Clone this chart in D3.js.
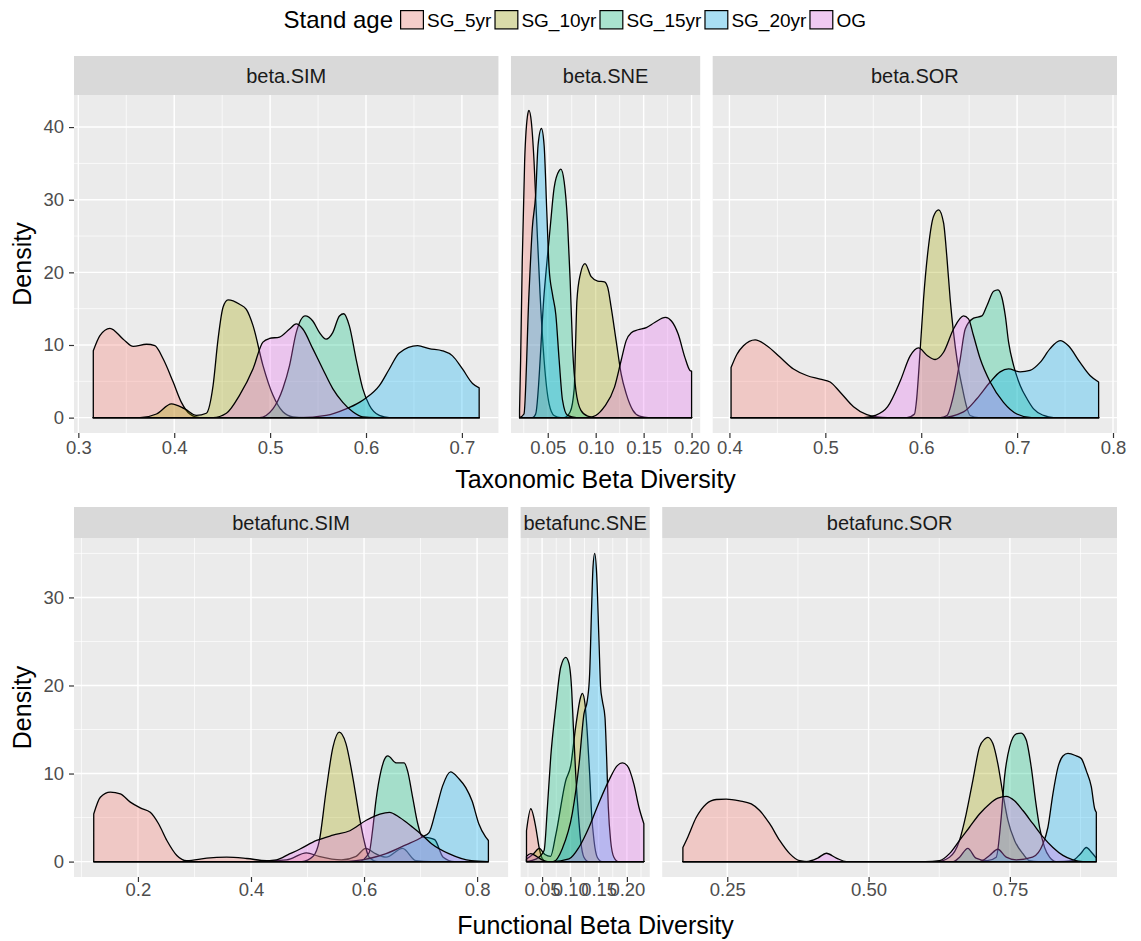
<!DOCTYPE html>
<html>
<head>
<meta charset="utf-8">
<script src="https://cdn.jsdelivr.net/npm/d3@7"></script>
<style>
  body { margin: 0; background: #fff; }
  text { font-family: "Liberation Sans", Arial, sans-serif; }
</style>
</head>
<body>
<div id="chart"></div>
<script>
// Stand age groups and ggplot default hues
var groups = ["SG_5yr", "SG_10yr", "SG_15yr", "SG_20yr", "OG"];
var colors = ["#F8766D", "#A3A500", "#00BF7D", "#00B0F6", "#E76BF3"];

// Density curves, [value, density], one array per group (order as above)
var taxSIM = [
    [[0.3156,9.2],[0.3225,11.3],[0.3330,12.3],[0.3468,10.8],[0.3572,9.8],[0.3711,10.1],[0.3798,9.9],[0.3884,8.1],[0.3989,4.9],[0.4075,2.1],[0.4162,0.5],[0.4266,0],[0.7180,0]],
    [[0.3156,0],[0.3642,0],[0.3815,0.5],[0.3971,1.9],[0.4110,1.2],[0.4231,0.3],[0.4335,0.6],[0.4405,4.4],[0.4457,10.8],[0.4509,15.2],[0.4561,16.2],[0.4682,15.6],[0.4752,14.9],[0.4821,12.7],[0.4925,7.2],[0.5029,3.1],[0.5133,0.8],[0.5237,0.1],[0.5350,0],[0.7180,0]],
    [[0.3156,0],[0.4890,0],[0.5029,1.2],[0.5133,4.0],[0.5203,7.2],[0.5272,11.7],[0.5366,14.0],[0.5445,13.3],[0.5515,11.7],[0.5584,10.8],[0.5653,11.7],[0.5723,14.0],[0.5768,14.3],[0.5827,12.6],[0.5896,8.1],[0.5966,4.0],[0.6035,1.7],[0.6139,0.3],[0.6243,0],[0.7180,0]],
    [[0.3156,0],[0.5307,0],[0.5584,0.3],[0.5792,1.2],[0.5931,2.1],[0.6000,2.7],[0.6139,4.4],[0.6243,6.7],[0.6347,8.9],[0.6538,9.9],[0.6659,9.5],[0.6798,9.2],[0.6902,8.5],[0.7006,6.7],[0.7111,4.7],[0.7180,4.1]],
    [[0.3156,0],[0.4405,0],[0.4544,0.6],[0.4682,3.1],[0.4821,6.7],[0.4925,10.4],[0.4994,10.9],[0.5098,11.1],[0.5203,12.2],[0.5272,12.9],[0.5341,12.2],[0.5445,9.5],[0.5549,6.7],[0.5653,4.0],[0.5758,2.1],[0.5862,0.8],[0.5966,0.1],[0.6100,0],[0.7180,0]]
];
var taxSNE = [
    [[0.0206,1.0],[0.0217,7.9],[0.0234,21.5],[0.0259,35.3],[0.0293,41.9],[0.0304,42.3],[0.0329,40.7],[0.0357,35.3],[0.0385,27.0],[0.0420,17.0],[0.0462,7.9],[0.0514,1.9],[0.0566,0.3],[0.0636,0],[0.2000,0]],
    [[0.0206,0],[0.0671,0],[0.0734,0.8],[0.0776,4.0],[0.0790,10.0],[0.0804,16.1],[0.0839,19.7],[0.0888,21.2],[0.0953,19.4],[0.1021,18.8],[0.1091,18.7],[0.1126,17.9],[0.1161,15.2],[0.1213,10.6],[0.1266,6.0],[0.1318,3.3],[0.1388,1.0],[0.1458,0.2],[0.1550,0],[0.2000,0]],
    [[0.0206,0],[0.0340,0],[0.0374,0.5],[0.0462,17.0],[0.0525,26.1],[0.0566,31.6],[0.0619,34.0],[0.0636,34.2],[0.0671,32.5],[0.0706,27.0],[0.0734,18.8],[0.0759,9.7],[0.0794,3.7],[0.0846,1.0],[0.0916,0.2],[0.1000,0],[0.2000,0]],
    [[0.0206,0],[0.0252,0.5],[0.0304,17.0],[0.0339,26.1],[0.0374,30.7],[0.0399,37.5],[0.0434,39.8],[0.0462,37.5],[0.0490,28.4],[0.0514,20.6],[0.0549,17.0],[0.0584,14.2],[0.0619,7.9],[0.0654,2.4],[0.0706,0.3],[0.0800,0],[0.2000,0]],
    [[0.0206,0],[0.0916,0],[0.1000,0.3],[0.1091,1.5],[0.1196,4.2],[0.1266,7.9],[0.1318,10.6],[0.1371,11.7],[0.1441,12.1],[0.1528,12.4],[0.1615,13.1],[0.1727,13.8],[0.1790,13.3],[0.1860,11.5],[0.1930,8.3],[0.1983,6.5],[0.2000,6.4]]
];
var taxSOR = [
    [[0.4017,6.9],[0.4077,8.7],[0.4146,9.9],[0.4268,10.7],[0.4390,9.9],[0.4529,8.3],[0.4668,6.7],[0.4807,5.8],[0.4946,5.3],[0.5050,4.9],[0.5155,3.5],[0.5294,1.5],[0.5433,0.4],[0.5537,0.1],[0.5650,0],[0.7850,0]],
    [[0.4017,0],[0.5850,0],[0.5930,0.5],[0.5948,2.0],[0.5990,9.5],[0.6024,16.3],[0.6076,23.6],[0.6128,27.7],[0.6181,28.6],[0.6233,26.8],[0.6267,22.2],[0.6302,16.3],[0.6337,11.7],[0.6378,7.6],[0.6424,4.4],[0.6469,1.7],[0.6510,0.3],[0.6600,0],[0.7850,0]],
    [[0.4017,0],[0.6200,0],[0.6268,0.3],[0.6337,3.1],[0.6407,8.1],[0.6459,12.2],[0.6546,13.7],[0.6633,14.0],[0.6685,15.4],[0.6755,17.4],[0.6800,17.6],[0.6842,16.5],[0.6877,14.0],[0.6911,10.4],[0.6963,7.2],[0.7033,4.4],[0.7103,2.6],[0.7172,1.2],[0.7277,0.3],[0.7381,0],[0.7850,0]],
    [[0.4017,0],[0.6200,0],[0.6441,0.8],[0.6580,2.6],[0.6719,4.9],[0.6823,6.3],[0.6910,6.7],[0.7031,6.3],[0.7135,6.5],[0.7240,7.6],[0.7344,9.5],[0.7448,10.6],[0.7535,9.9],[0.7656,7.6],[0.7760,5.8],[0.7850,4.9]],
    [[0.4017,0],[0.5400,0],[0.5520,0.3],[0.5650,1.5],[0.5780,5.0],[0.5885,8.5],[0.5972,9.6],[0.6059,8.6],[0.6146,8.0],[0.6233,9.0],[0.6337,12.2],[0.6441,14.0],[0.6493,13.6],[0.6545,11.3],[0.6615,8.1],[0.6719,4.9],[0.6858,2.1],[0.6997,0.5],[0.7150,0],[0.7850,0]]
];
var funcSIM = [
    [[0.1218,5.4],[0.1335,7.3],[0.1512,7.9],[0.1688,7.7],[0.1865,6.75],[0.2041,6.1],[0.2218,5.6],[0.2365,4.3],[0.2512,2.4],[0.2688,0.7],[0.2865,0.1],[0.3218,0.4],[0.3571,0.5],[0.3924,0.35],[0.4276,0.1],[0.4630,0.2],[0.4980,1.0],[0.5200,0.6],[0.5600,0.2],[0.5860,0.6],[0.6030,1.5],[0.6200,0.9],[0.6390,0.5],[0.6680,1.5],[0.6920,0.1],[0.7200,0],[0.8200,0]],
    [[0.1218,0],[0.4900,0],[0.5100,0.6],[0.5210,2.4],[0.5330,8.1],[0.5450,13.0],[0.5560,14.7],[0.5680,13.4],[0.5800,9.6],[0.5920,5.0],[0.6000,2.4],[0.6090,0.5],[0.6250,0],[0.8200,0]],
    [[0.1218,0],[0.5900,0],[0.6090,1.0],[0.6150,3.5],[0.6210,6.9],[0.6300,10.3],[0.6390,11.9],[0.6420,12.0],[0.6570,11.2],[0.6710,11.2],[0.6770,10.3],[0.6860,7.3],[0.6950,4.3],[0.7030,2.8],[0.7150,2.7],[0.7250,2.5],[0.7400,0.5],[0.7600,0],[0.8200,0]],
    [[0.1218,0],[0.5600,0],[0.5860,0.1],[0.6390,0.9],[0.6740,1.9],[0.7030,2.8],[0.7150,3.3],[0.7270,5.8],[0.7390,8.6],[0.7530,10.2],[0.7680,9.4],[0.7800,8.4],[0.7910,6.9],[0.8030,4.3],[0.8150,2.8],[0.8200,2.4]],
    [[0.1218,0],[0.4000,0],[0.4450,0.2],[0.4680,0.87],[0.4860,1.4],[0.5160,2.4],[0.5450,3.0],[0.5750,3.5],[0.6040,4.7],[0.6280,5.4],[0.6450,5.6],[0.6630,5.0],[0.6860,3.9],[0.7030,3.0],[0.7200,2.0],[0.7500,0.9],[0.7900,0.1],[0.8200,0]]
];
var funcSNE = [
    [[0.0224,3.5],[0.0300,6.0],[0.0388,3.9],[0.0447,1.6],[0.0506,0.3],[0.0565,0],[0.2300,0]],
    [[0.0224,0.3],[0.0350,0.9],[0.0450,1.5],[0.0550,0.8],[0.0650,0.6],[0.0741,3.0],[0.0918,9.2],[0.1006,10.9],[0.1094,15.3],[0.1182,18.7],[0.1212,19.1],[0.1259,17.9],[0.1300,14.5],[0.1341,10.0],[0.1376,5.4],[0.1418,2.4],[0.1476,0.5],[0.1560,0],[0.2300,0]],
    [[0.0224,0],[0.0400,0.3],[0.0535,1.25],[0.0594,6.2],[0.0653,11.9],[0.0741,17.5],[0.0830,22.1],[0.0918,23.2],[0.0976,22.5],[0.1024,19.4],[0.1053,15.3],[0.1094,10.0],[0.1141,5.4],[0.1182,2.4],[0.1240,0.5],[0.1324,0],[0.2300,0]],
    [[0.0224,0],[0.0700,0],[0.0859,1.5],[0.1035,5.5],[0.1153,11.0],[0.1241,16.8],[0.1300,18.3],[0.1341,21.3],[0.1376,28.9],[0.1400,33.4],[0.1430,35.0],[0.1465,32.7],[0.1506,25.1],[0.1535,19.8],[0.1565,18.3],[0.1612,16.4],[0.1641,11.9],[0.1671,6.2],[0.1712,2.4],[0.1770,0.5],[0.1850,0],[0.2300,0]],
    [[0.0224,0.6],[0.0300,0.9],[0.0400,0.6],[0.0500,0.2],[0.0600,0],[0.0680,0],[0.0976,0.3],[0.1150,1.6],[0.1330,3.9],[0.1500,6.6],[0.1680,9.2],[0.1830,10.9],[0.1920,11.2],[0.2006,10.9],[0.2124,8.8],[0.2212,6.2],[0.2300,4.3]]
];
var funcSOR = [
    [[0.1715,1.6],[0.1803,2.8],[0.1950,5.0],[0.2128,6.55],[0.2305,7.05],[0.2482,7.1],[0.2718,6.9],[0.2925,6.55],[0.3073,5.8],[0.3250,4.3],[0.3427,2.4],[0.3604,0.9],[0.3781,0.1],[0.3950,0],[0.9029,0]],
    [[0.1715,0],[0.6200,0],[0.6431,0.5],[0.6608,2.4],[0.6726,5.4],[0.6844,9.2],[0.6962,13.0],[0.7051,13.9],[0.7110,14.1],[0.7199,13.4],[0.7287,11.1],[0.7376,7.7],[0.7464,4.7],[0.7582,2.4],[0.7730,0.9],[0.7848,0.1],[0.8000,0],[0.9029,0]],
    [[0.1715,0],[0.6500,0],[0.6610,0.5],[0.6755,1.5],[0.6900,0.4],[0.7100,0.1],[0.7258,0.5],[0.7346,5.0],[0.7405,9.6],[0.7494,13.0],[0.7612,14.5],[0.7700,14.6],[0.7789,13.8],[0.7878,10.7],[0.7954,6.9],[0.8025,3.9],[0.8114,1.6],[0.8202,0.5],[0.8320,0],[0.8600,0.1],[0.8750,0.9],[0.8852,1.6],[0.8950,1.0],[0.9029,0.4]],
    [[0.1715,0],[0.6962,0],[0.7140,0.7],[0.7287,1.4],[0.7435,0.5],[0.7612,0.2],[0.7900,0.5],[0.8084,2.0],[0.8173,3.9],[0.8261,7.7],[0.8350,10.7],[0.8438,12.0],[0.8527,12.3],[0.8674,12.0],[0.8763,11.7],[0.8852,10.3],[0.8940,8.5],[0.9000,6.0],[0.9029,5.6]],
    [[0.1715,0],[0.3900,0],[0.4100,0.4],[0.4253,0.95],[0.4430,0.4],[0.4607,0],[0.6000,0],[0.6254,0.1],[0.6431,0.9],[0.6608,2.4],[0.6785,3.9],[0.6962,5.4],[0.7140,6.55],[0.7287,7.2],[0.7435,7.4],[0.7582,6.9],[0.7730,5.8],[0.7907,4.3],[0.8084,2.8],[0.8261,1.6],[0.8438,0.7],[0.8615,0.2],[0.8793,0],[0.9029,0]]
];

// Facet labels and axis breaks
var taxNames = ["beta.SIM", "beta.SNE", "beta.SOR"];
var funcNames = ["betafunc.SIM", "betafunc.SNE", "betafunc.SOR"];
var taxXTicks = [[0.3, 0.4, 0.5, 0.6, 0.7], [0.05, 0.10, 0.15, 0.20], [0.4, 0.5, 0.6, 0.7, 0.8]];
var taxXLabels = [["0.3", "0.4", "0.5", "0.6", "0.7"], ["0.05", "0.10", "0.15", "0.20"], ["0.4", "0.5", "0.6", "0.7", "0.8"]];
var funcXTicks = [[0.2, 0.4, 0.6, 0.8], [0.05, 0.10, 0.15, 0.20], [0.25, 0.50, 0.75]];
var funcXLabels = [["0.2", "0.4", "0.6", "0.8"], ["0.05", "0.10", "0.15", "0.20"], ["0.25", "0.50", "0.75"]];
var taxYTicks = [0, 10, 20, 30, 40];
var funcYTicks = [0, 10, 20, 30];

var width = 1141, height = 941;

var svg = d3.select("#chart").append("svg")
    .attr("width", width)
    .attr("height", height);

svg.append("rect").attr("width", width).attr("height", height).attr("fill", "#fff");

// one row of facets (free x, space free, shared y)
function drawRow(cfg) {
    var left = 74, right = 1117, gap = 12.5;
    var doms = cfg.data.map(function (p) {
        var e = d3.extent(p.flat(), function (d) { return d[0]; });
        var pad = (e[1] - e[0]) * 0.05;
        return [e[0] - pad, e[1] + pad];
    });
    var span = d3.sum(doms, function (d) { return d[1] - d[0]; });
    var k = (right - left - gap * (doms.length - 1)) / span;

    var ymax = d3.max(cfg.data, function (p) { return d3.max(p.flat(), function (d) { return d[1]; }); });
    var y = d3.scaleLinear()
        .domain([-0.05 * ymax, 1.05 * ymax])
        .range([cfg.top + cfg.panelH, cfg.top]);
    var yStep = cfg.yTicks[1] - cfg.yTicks[0];
    var yMinor = cfg.yTicks.map(function (t) { return t + yStep / 2; })
        .concat([cfg.yTicks[0] - yStep / 2])
        .filter(function (t) { return t > y.domain()[0] && t < y.domain()[1]; });

    var x0 = left;
    doms.forEach(function (dom, i) {
        var w = (dom[1] - dom[0]) * k;
        var x = d3.scaleLinear().domain(dom).range([x0, x0 + w]);
        var ticks = cfg.xTicks[i];
        var labels = cfg.xLabels[i];
        var step = ticks[1] - ticks[0];
        var xMinor = ticks.map(function (t) { return t + step / 2; })
            .concat([ticks[0] - step / 2])
            .filter(function (t) { return t > dom[0] && t < dom[1]; });

        var g = svg.append("g");

        // panel background and grid
        g.append("rect")
            .attr("x", x0).attr("y", cfg.top)
            .attr("width", w).attr("height", cfg.panelH)
            .attr("fill", "#EBEBEB");

        g.selectAll(".yminor").data(yMinor).enter().append("line")
            .attr("x1", x0).attr("x2", x0 + w)
            .attr("y1", function (d) { return y(d); }).attr("y2", function (d) { return y(d); })
            .attr("stroke", "#fff").attr("stroke-width", 0.7);
        g.selectAll(".xminor").data(xMinor).enter().append("line")
            .attr("y1", cfg.top).attr("y2", cfg.top + cfg.panelH)
            .attr("x1", function (d) { return x(d); }).attr("x2", function (d) { return x(d); })
            .attr("stroke", "#fff").attr("stroke-width", 0.7);
        g.selectAll(".ymajor").data(cfg.yTicks).enter().append("line")
            .attr("x1", x0).attr("x2", x0 + w)
            .attr("y1", function (d) { return y(d); }).attr("y2", function (d) { return y(d); })
            .attr("stroke", "#fff").attr("stroke-width", 1.4);
        g.selectAll(".xmajor").data(ticks).enter().append("line")
            .attr("y1", cfg.top).attr("y2", cfg.top + cfg.panelH)
            .attr("x1", function (d) { return x(d); }).attr("x2", function (d) { return x(d); })
            .attr("stroke", "#fff").attr("stroke-width", 1.4);

        // densities
        var area = d3.area()
            .x(function (d) { return x(d[0]); })
            .y0(y(0))
            .y1(function (d) { return y(d[1]); })
            .curve(d3.curveMonotoneX);

        g.selectAll(".dens").data(cfg.data[i]).enter().append("path")
            .attr("d", area)
            .attr("fill", function (d, j) { return colors[j]; })
            .attr("fill-opacity", 0.3)
            .attr("stroke", "#000")
            .attr("stroke-width", 1.3)
            .attr("stroke-linejoin", "round");

        // strip
        g.append("rect")
            .attr("x", x0).attr("y", cfg.top - cfg.stripH)
            .attr("width", w).attr("height", cfg.stripH)
            .attr("fill", "#D9D9D9");
        g.append("text")
            .attr("x", x0 + w / 2).attr("y", cfg.top - cfg.stripH / 2)
            .attr("text-anchor", "middle")
            .attr("dominant-baseline", "central")
            .style("font-size", "20px")
            .style("fill", "#1A1A1A")
            .text(cfg.names[i]);

        // x axis
        var ax = g.append("g")
            .attr("transform", "translate(0," + (cfg.top + cfg.panelH) + ")")
            .call(d3.axisBottom(x).tickValues(ticks)
                .tickFormat(function (d, j) { return labels[j]; })
                .tickSize(5).tickPadding(cfg.xPad));
        ax.select(".domain").remove();
        ax.selectAll("line").attr("stroke", "#333").attr("stroke-width", 1.2);
        ax.selectAll("text").style("font-size", "18.5px").style("fill", "#4D4D4D")
            .style("font-family", "'Liberation Sans', Arial, sans-serif");

        x0 += w + gap;
    });

    // y axis on the first panel
    var ay = svg.append("g")
        .attr("transform", "translate(" + left + ",0)")
        .call(d3.axisLeft(y).tickValues(cfg.yTicks).tickSize(5).tickPadding(5));
    ay.select(".domain").remove();
    ay.selectAll("line").attr("stroke", "#333").attr("stroke-width", 1.2);
    ay.selectAll("text").style("font-size", "18.5px").style("fill", "#4D4D4D")
        .style("font-family", "'Liberation Sans', Arial, sans-serif");

    svg.append("text")
        .attr("transform", "translate(31," + (cfg.top + cfg.panelH / 2) + ") rotate(-90)")
        .attr("text-anchor", "middle")
        .style("font-size", "25px")
        .text("Density");

    svg.append("text")
        .attr("x", (left + right) / 2)
        .attr("y", cfg.titleY)
        .attr("text-anchor", "middle")
        .style("font-size", "25px")
        .text(cfg.title);
}

drawRow({
    data: [taxSIM, taxSNE, taxSOR], names: taxNames,
    xTicks: taxXTicks, xLabels: taxXLabels, yTicks: taxYTicks,
    top: 95, panelH: 338, stripH: 39, xPad: 3,
    title: "Taxonomic Beta Diversity", titleY: 488
});

drawRow({
    data: [funcSIM, funcSNE, funcSOR], names: funcNames,
    xTicks: funcXTicks, xLabels: funcXLabels, yTicks: funcYTicks,
    top: 538, panelH: 339, stripH: 31, xPad: 1,
    title: "Functional Beta Diversity", titleY: 934
});

// legend
var legend = svg.append("g");
legend.append("text")
    .attr("x", 393).attr("y", 28)
    .attr("text-anchor", "end")
    .style("font-size", "24px")
    .text("Stand age");

var lx = 400;
groups.forEach(function (name, i) {
    legend.append("rect")
        .attr("x", lx).attr("y", 10).attr("width", 24).attr("height", 19.5)
        .attr("fill", "#F2F2F2");
    legend.append("rect")
        .attr("x", lx + 0.6).attr("y", 10.6).attr("width", 22.8).attr("height", 18.3)
        .attr("fill", colors[i]).attr("fill-opacity", 0.3)
        .attr("stroke", "#000").attr("stroke-width", 1.2);
    var t = legend.append("text")
        .attr("x", lx + 27).attr("y", 27)
        .style("font-size", "19px")
        .text(name);
    lx += 27 + t.node().getComputedTextLength() + 3;
});
</script>
</body>
</html>
